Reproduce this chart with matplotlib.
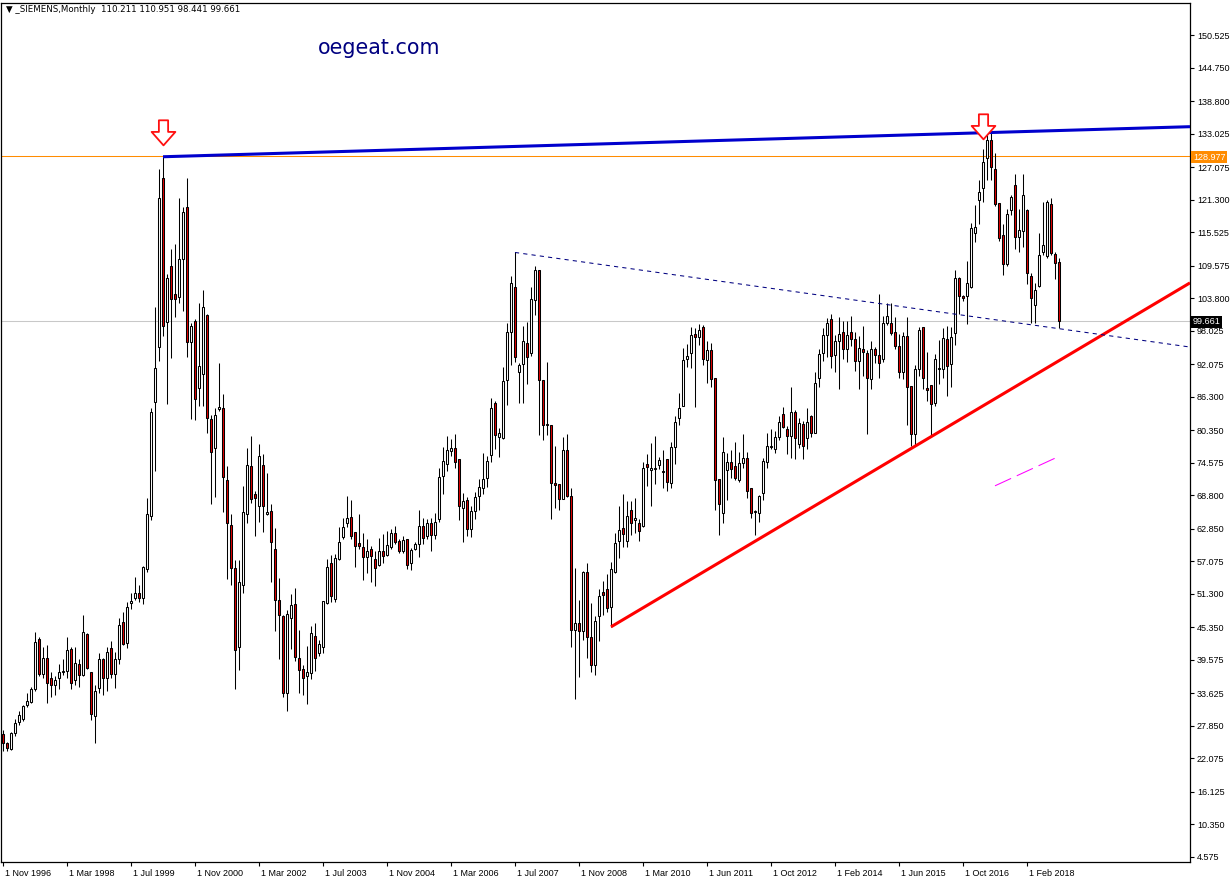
import matplotlib
matplotlib.use('Agg')
import matplotlib.pyplot as plt
import matplotlib.transforms as mtransforms
from matplotlib.path import Path

# monthly SIEMENS candles, Nov 1996 .. Oct 2018
opens = [26.3, 24.7, 23.7, 26.6, 28.5, 29.1, 31.6, 32.0, 34.4, 43.3,
         37.0, 39.9, 36.3, 35.1, 36.3, 37.4, 37.5, 41.4, 35.9, 38.8,
         36.8, 44.1, 37.3, 29.5, 34.5, 39.6, 36.3, 41.6, 37.0, 39.7,
         46.2, 42.5, 49.7, 50.6, 51.4, 50.6, 55.6, 65.0, 85.3, 95.1,
         125.2, 99.5, 109.5, 104.5, 103.9, 110.8, 120.0, 96.0, 99.7, 87.8,
         90.3, 100.8, 82.4, 77.2, 84.1, 84.2, 71.5, 63.5, 55.9, 41.8,
         52.9, 65.4, 73.9, 69.0, 66.9, 74.2, 65.4, 66.0, 59.2, 50.2,
         47.3, 33.6, 47.0, 49.5, 39.8, 37.9, 36.7, 37.2, 43.8, 40.7,
         41.9, 49.6, 56.7, 50.3, 57.4, 61.3, 63.8, 64.9, 62.2, 60.3,
         59.6, 57.8, 59.2, 57.4, 56.4, 58.8, 58.2, 59.5, 62.0, 60.6,
         58.8, 61.0, 56.7, 59.2, 60.2, 63.4, 61.5, 63.8, 61.8, 64.5,
         72.2, 74.3, 76.7, 77.1, 75.2, 66.5, 68.0, 62.8, 65.9, 68.6,
         70.0, 71.8, 76.0, 85.2, 79.2, 78.9, 89.3, 97.7, 105.7, 90.6,
         92.1, 95.8, 94.0, 103.4, 108.7, 89.2, 81.3, 81.3, 70.9, 70.8,
         68.1, 76.8, 68.7, 44.9, 46.1, 44.6, 55.1, 43.6, 38.7, 47.4,
         51.5, 52.1, 49.0, 55.2, 60.6, 62.9, 60.6, 66.1, 64.3, 63.9,
         63.3, 74.4, 73.2, 73.5, 74.1, 73.0, 75.2, 71.0, 77.3, 82.5,
         84.6, 92.9, 94.1, 97.4, 96.8, 98.6, 92.8, 94.5, 89.6, 71.6,
         65.6, 73.2, 74.6, 74.0, 71.4, 74.5, 75.4, 70.0, 65.8, 65.7,
         69.1, 74.6, 77.4, 77.0, 79.2, 83.2, 80.5, 79.3, 83.6, 77.9,
         81.5, 78.9, 82.9, 79.9, 89.6, 94.0, 97.3, 100.0, 93.7, 96.1,
         97.7, 94.7, 97.7, 96.5, 92.7, 94.7, 94.0, 89.4, 94.7, 93.7,
         92.9, 99.3, 99.4, 97.7, 95.3, 90.6, 97.1, 88.2, 79.6, 91.2,
         98.6, 87.8, 88.3, 85.2, 91.2, 91.2, 96.5, 92.0, 97.6, 107.3,
         104.1, 104.1, 105.8, 115.4, 121.3, 123.3, 128.6, 131.8, 126.8, 120.6,
         115.0, 109.9, 119.4, 123.9, 114.6, 115.8, 119.4, 107.7, 102.6, 106.0,
         112.0, 111.2, 120.5, 111.6, 110.211]
highs = [27.0, 24.9, 26.8, 29.0, 30.5, 31.6, 33.6, 34.8, 44.4, 43.6,
         41.8, 42.1, 37.3, 36.6, 38.8, 39.6, 43.6, 41.8, 41.8, 39.6,
         47.5, 44.3, 37.4, 35.1, 40.7, 39.9, 41.8, 42.9, 40.9, 46.9,
         48.1, 49.9, 51.4, 54.3, 52.9, 56.2, 68.2, 84.2, 102.3, 126.7,
         128.9, 108.0, 112.6, 113.4, 121.5, 120.0, 125.2, 99.3, 100.1, 103.0,
         105.3, 101.0, 83.0, 84.2, 92.3, 86.8, 73.9, 65.5, 57.3, 57.3,
         70.5, 77.2, 79.3, 69.6, 77.9, 76.1, 72.7, 67.3, 62.9, 54.1,
         47.5, 48.4, 51.3, 52.3, 44.9, 38.7, 42.0, 45.6, 46.0, 43.1,
         50.0, 57.4, 58.2, 58.4, 63.1, 64.7, 68.6, 68.0, 62.2, 65.5,
         62.0, 61.0, 59.8, 58.8, 61.2, 61.9, 62.5, 62.8, 63.3, 61.0,
         61.5, 61.0, 59.4, 60.4, 66.2, 64.7, 64.5, 64.7, 65.6, 73.6,
         77.4, 79.3, 78.7, 79.7, 75.2, 69.1, 68.5, 66.8, 69.3, 71.6,
         76.3, 75.8, 86.0, 85.6, 80.7, 91.6, 99.3, 107.7, 111.9, 92.2,
         98.9, 99.6, 105.7, 109.5, 108.7, 89.2, 92.5, 81.3, 77.6, 70.8,
         79.1, 79.7, 70.0, 55.8, 50.2, 55.3, 56.8, 49.6, 47.4, 52.1,
         53.5, 54.8, 57.0, 62.0, 66.8, 69.0, 67.7, 67.7, 68.3, 64.5,
         74.6, 76.1, 78.0, 79.3, 75.5, 76.8, 75.2, 78.3, 82.9, 86.9,
         94.9, 95.7, 98.6, 98.4, 99.2, 99.0, 96.1, 95.8, 89.6, 71.6,
         79.2, 76.2, 76.9, 78.3, 76.5, 79.7, 76.5, 70.0, 66.1, 68.9,
         75.4, 79.9, 80.5, 80.1, 82.8, 84.4, 81.0, 88.0, 83.9, 82.5,
         81.9, 84.2, 83.1, 90.6, 94.7, 98.4, 100.2, 101.0, 97.3, 100.4,
         99.8, 99.8, 100.6, 97.7, 97.1, 98.9, 94.6, 96.1, 95.1, 104.5,
         100.6, 103.0, 103.0, 100.4, 97.4, 97.7, 100.4, 88.2, 91.9, 98.6,
         98.6, 94.3, 88.3, 93.9, 96.3, 98.4, 98.9, 98.6, 108.8, 107.6,
         104.3, 110.3, 117.1, 120.3, 124.8, 130.2, 133.1, 133.1, 129.6, 120.6,
         116.9, 119.6, 122.1, 125.8, 119.6, 125.8, 119.7, 108.3, 106.5, 115.4,
         120.9, 121.3, 121.5, 111.9, 110.951]
lows = [23.3, 23.3, 23.5, 26.0, 28.0, 28.6, 31.2, 31.8, 34.0, 36.6,
        36.3, 31.8, 32.9, 33.3, 34.4, 36.8, 36.3, 34.4, 35.1, 34.8,
        36.6, 37.9, 28.9, 24.8, 33.7, 33.3, 34.0, 36.3, 34.5, 38.8,
        42.1, 41.6, 48.6, 50.2, 49.9, 49.5, 55.1, 64.3, 73.1, 92.7,
        97.1, 85.0, 93.1, 100.4, 103.0, 101.5, 93.4, 82.4, 82.2, 84.6,
        84.6, 79.8, 67.3, 68.4, 83.8, 65.8, 53.9, 52.9, 34.3, 37.7,
        51.4, 63.9, 67.4, 61.5, 64.1, 62.3, 65.3, 53.3, 44.6, 39.7,
        32.9, 30.4, 41.5, 39.4, 33.6, 33.3, 31.7, 36.1, 37.5, 40.3,
        40.7, 49.5, 49.9, 49.9, 57.2, 61.0, 63.1, 61.0, 56.0, 59.2,
        53.8, 54.9, 53.3, 52.6, 56.2, 56.7, 57.9, 59.3, 60.1, 58.6,
        58.5, 55.7, 55.5, 59.0, 57.8, 60.2, 61.0, 58.8, 61.0, 64.1,
        69.0, 73.0, 75.8, 73.6, 64.3, 60.4, 61.6, 61.3, 64.5, 66.2,
        69.0, 70.3, 74.6, 77.0, 75.5, 78.7, 84.8, 91.9, 92.5, 85.2,
        85.2, 88.6, 93.5, 100.8, 79.5, 78.6, 79.5, 64.5, 66.5, 66.2,
        68.1, 68.5, 41.8, 32.6, 36.5, 43.1, 39.9, 37.3, 36.9, 42.8,
        47.5, 48.0, 45.4, 55.0, 57.6, 59.6, 59.6, 61.7, 62.0, 60.6,
        63.2, 70.5, 66.8, 70.8, 73.4, 70.0, 69.6, 70.0, 74.4, 81.3,
        84.6, 91.6, 91.3, 84.4, 95.5, 91.9, 88.7, 88.0, 66.1, 61.7,
        63.9, 68.0, 71.8, 71.5, 71.2, 73.6, 68.3, 64.7, 61.7, 64.1,
        68.0, 73.6, 77.0, 76.2, 78.6, 80.7, 76.1, 75.4, 75.2, 77.1,
        75.2, 77.0, 79.2, 79.9, 88.0, 92.7, 93.4, 91.3, 90.6, 87.6,
        92.9, 92.5, 95.3, 90.8, 87.6, 90.0, 79.7, 87.6, 92.2, 89.6,
        92.5, 99.0, 97.3, 94.7, 89.6, 89.4, 81.3, 77.5, 77.5, 90.0,
        87.6, 85.6, 79.2, 84.6, 88.6, 89.6, 86.4, 88.0, 95.5, 101.0,
        103.2, 99.2, 105.5, 113.7, 117.0, 120.9, 124.8, 124.7, 120.2, 114.0,
        107.9, 109.5, 118.6, 112.5, 111.9, 112.8, 106.3, 99.4, 99.4, 105.8,
        111.5, 111.0, 111.5, 107.1, 98.441]
closes = [24.8, 23.9, 26.6, 28.4, 29.8, 31.3, 32.2, 34.4, 42.7, 37.0,
          39.9, 35.5, 35.1, 35.9, 37.3, 37.6, 41.2, 35.5, 39.0, 36.8,
          44.5, 38.1, 30.0, 34.0, 39.6, 36.3, 41.0, 37.0, 39.7, 45.8,
          42.4, 49.0, 50.0, 51.4, 50.6, 56.0, 65.5, 83.5, 91.4, 121.6,
          98.8, 107.3, 103.6, 103.6, 110.8, 119.1, 96.0, 98.8, 85.9, 91.7,
          102.3, 82.5, 76.5, 83.0, 84.4, 72.0, 63.9, 55.8, 41.2, 53.4,
          65.8, 74.1, 68.1, 68.3, 75.8, 66.8, 65.8, 60.4, 50.1, 47.5,
          33.6, 47.6, 49.2, 40.0, 37.8, 36.3, 37.3, 44.3, 39.8, 42.4,
          50.0, 56.1, 50.8, 57.6, 60.4, 63.1, 64.7, 61.6, 59.7, 59.8,
          57.8, 58.8, 57.9, 55.8, 58.8, 57.9, 59.9, 62.0, 60.4, 58.8,
          60.9, 56.4, 59.0, 60.2, 63.4, 61.2, 63.8, 61.8, 64.0, 72.1,
          74.8, 76.8, 77.1, 74.7, 66.8, 67.8, 62.8, 65.9, 68.4, 70.2,
          71.6, 74.9, 84.2, 79.5, 79.8, 89.0, 97.7, 106.4, 93.3, 91.9,
          96.1, 93.4, 103.6, 108.7, 89.2, 81.3, 81.4, 70.9, 70.6, 68.1,
          76.8, 68.7, 44.9, 46.1, 44.6, 55.1, 43.6, 38.7, 46.4, 50.8,
          51.1, 48.7, 55.7, 60.3, 62.6, 61.9, 65.1, 63.9, 64.7, 62.5,
          73.6, 73.8, 73.6, 73.6, 75.1, 72.9, 71.2, 77.3, 81.7, 84.2,
          92.8, 93.5, 97.3, 96.8, 98.1, 92.9, 94.6, 89.4, 71.5, 67.3,
          76.5, 74.6, 73.4, 71.8, 74.5, 75.4, 69.6, 65.7, 66.0, 68.7,
          74.9, 77.5, 77.6, 79.2, 81.7, 80.9, 79.3, 83.5, 78.9, 81.6,
          77.5, 81.7, 79.9, 88.8, 93.9, 97.3, 99.4, 93.5, 96.1, 97.4,
          94.7, 97.3, 96.5, 92.7, 94.9, 94.3, 89.6, 94.7, 93.7, 92.3,
          99.3, 100.6, 97.6, 95.3, 90.6, 97.1, 88.0, 79.6, 91.2, 98.2,
          89.6, 87.5, 85.0, 92.9, 91.4, 96.7, 91.7, 96.9, 107.3, 104.1,
          103.8, 106.4, 116.2, 116.4, 122.7, 127.9, 131.8, 127.0, 120.5, 114.4,
          109.9, 118.7, 121.7, 114.6, 115.9, 122.1, 108.2, 103.8, 105.2, 111.5,
          113.2, 120.9, 111.8, 110.1, 99.661]

date_bars = [0, 16, 32, 48, 64, 80, 96, 112, 128, 144, 160, 176, 192, 208, 224, 240, 256]
date_labels = ['1 Nov 1996', '1 Mar 1998', '1 Jul 1999', '1 Nov 2000', '1 Mar 2002',
               '1 Jul 2003', '1 Nov 2004', '1 Mar 2006', '1 Jul 2007', '1 Nov 2008',
               '1 Mar 2010', '1 Jun 2011', '1 Oct 2012', '1 Feb 2014', '1 Jun 2015',
               '1 Oct 2016', '1 Feb 2018']
price_ticks = [150.525, 144.750, 138.800, 133.025, 127.075, 121.300, 115.525, 109.575,
               103.800, 98.025, 92.075, 86.300, 80.350, 74.575, 68.800, 62.850, 57.075,
               51.300, 45.350, 39.575, 33.625, 27.850, 22.075, 16.125, 10.350, 4.575]

# drawn objects (bar index, price)
resist_line = ([40, 296.75], [128.9, 134.24])
support_line = ([152, 296.75], [45.4, 106.5])
dotted_line = ([128, 296.75], [111.9, 95.1])
magenta_line = ([248, 263.75], [70.45, 75.6])
arrows_x = [40, 245]
arrows_y = [133.2, 134.2]
high_level = 128.977
last_price = 99.661

plt.rcParams['font.family'] = 'DejaVu Sans'
small_font = 'Liberation Sans'

W, H = 1230, 884
fig = plt.figure(figsize=(W / 100, H / 100), dpi=100)
fig.patch.set_facecolor('white')
ax = fig.add_axes([1 / W, 1 - 862 / H, 1189 / W, 859 / H])
ax.set_xlim(-0.5, 296.75)
ax.set_ylim(3.63, 156.21)

# horizontal levels
ax.axhline(last_price, color='#C8C8C8', lw=0.75, zorder=1)
ax.axhline(high_level, color='#FF8C00', lw=0.75, zorder=1)

# candles
xs = list(range(len(opens)))
ax.vlines(xs, lows, highs, color='black', lw=0.75, zorder=2)
for i in xs:
    o, c = opens[i], closes[i]
    bottom = min(o, c)
    height = max(abs(c - o), 0.15)
    col = 'white' if c >= o else '#E00000'
    ax.bar(i, height, bottom=bottom, width=0.6, color=col, edgecolor='black',
           linewidth=0.75, zorder=3)

# trend lines
ax.plot(*resist_line, color='#0000CD', lw=2.2, zorder=4, solid_capstyle='butt')
ax.plot(*support_line, color='#FF0000', lw=2.2, zorder=4, solid_capstyle='butt')
ax.plot(*dotted_line, color='#000080', lw=0.75, ls=(0, (4, 4)), zorder=4)
ax.plot(*magenta_line, color='#FF00FF', lw=0.75, ls=(0, (17, 6)), zorder=4)

# down arrows
arrow = Path([(-0.35, 1.0), (0.35, 1.0), (0.35, 0.12), (0.9, 0.12), (0.0, -0.9),
              (-0.9, 0.12), (-0.35, 0.12), (-0.35, 1.0)],
             [Path.MOVETO] + [Path.LINETO] * 6 + [Path.CLOSEPOLY])
ax.plot(arrows_x, arrows_y, ls='none', marker=arrow, ms=19, mfc='white',
        mec='#FF1010', mew=1.3, zorder=5)

# axes look
for s in ax.spines.values():
    s.set_color('black')
    s.set_linewidth(0.9)
ax.yaxis.tick_right()
ax.set_yticks(price_ticks)
ax.set_yticklabels(['%.3f' % p for p in price_ticks], family=small_font)
ax.tick_params(axis='y', direction='out', length=3, width=0.8, pad=2,
               labelsize=6.5, colors='black')
ax.set_xticks(date_bars)
ax.set_xticklabels(date_labels, family=small_font)
ax.tick_params(axis='x', direction='out', length=3, width=0.8, pad=2,
               labelsize=6.5, colors='black')
offset = mtransforms.ScaledTranslation(2 / 100, 0, fig.dpi_scale_trans)
for lab in ax.get_xticklabels():
    lab.set_horizontalalignment('left')
    lab.set_transform(lab.get_transform() + offset)

# price boxes on the axis
fig.text(1193 / W, 1 - 157 / H, '%.3f' % high_level, fontsize=6.5, family=small_font,
         color='white', va='center', ha='left',
         bbox=dict(boxstyle='square,pad=0.18', fc='#FF8C00', ec='none'))
fig.text(1193 / W, 1 - 322 / H, '%.3f' % last_price, fontsize=6.5, family=small_font,
         color='white', va='center', ha='left',
         bbox=dict(boxstyle='square,pad=0.18', fc='black', ec='none'))

# header and watermark
fig.text(6 / W, 1 - 10 / H, '\u25bc _SIEMENS,Monthly  110.211 110.951 98.441 99.661',
         fontsize=6.2, color='black', va='center', ha='left')
fig.text(318 / W, 1 - 54 / H, 'oegeat.com', fontsize=14.9, color='#000080',
         va='baseline', ha='left')

fig.savefig('out.png', dpi=100, facecolor='white')
